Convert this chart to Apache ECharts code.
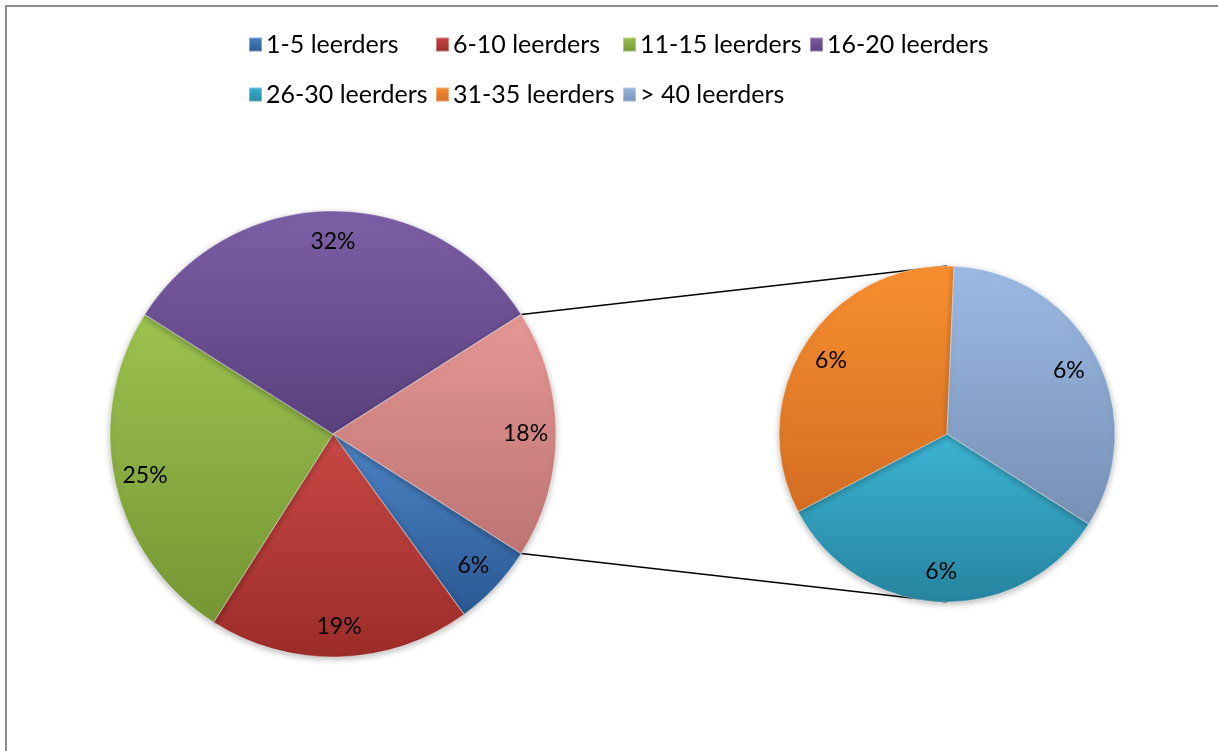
<!DOCTYPE html>
<html>
<head>
<meta charset="utf-8">
<script src="https://cdn.jsdelivr.net/npm/echarts@6/dist/echarts.min.js"></script>
<style>
  html, body { margin: 0; padding: 0; background: #fff; }
  #chart { width: 1218px; height: 751px; }
</style>
</head>
<body>
<div id="chart"></div>
<script>
// Klasgrootte: hoofdcirkel + uitvergrote tweede cirkel (pie-of-pie)
const mainNames = ['1-5 leerders', '6-10 leerders', '11-15 leerders', '16-20 leerders'];
const mainValues = [6, 19, 25, 32];
const subNames = ['26-30 leerders', '31-35 leerders', '> 40 leerders'];
const subValues = [6, 6, 6];
const otherName = 'Overige';

const legendRow1 = ['1-5 leerders', '6-10 leerders', '11-15 leerders', '16-20 leerders'];
const legendRow2 = ['26-30 leerders', '31-35 leerders', '> 40 leerders'];

// light (top) / dark (bottom) shades per category
const shades = {
  '1-5 leerders':   ['#4c84c5', '#2a5893'],
  '6-10 leerders':  ['#c84845', '#9c2c29'],
  '11-15 leerders': ['#9cc24f', '#759634'],
  '16-20 leerders': ['#7d5fa5', '#5a407e'],
  'Overige':        ['#e59794', '#bd7472'],
  '26-30 leerders': ['#3cb4d3', '#26849f'],
  '31-35 leerders': ['#f88f30', '#d46d22'],
  '> 40 leerders':  ['#9bbae4', '#7790b5']
};

const FONT = 'Lato, "Noto Sans", sans-serif';
const sum = a => a.reduce((s, v) => s + v, 0);
const subTotal = sum(subValues);
const grandTotal = sum(mainValues) + subTotal;

// geometry of the two pies
const c1 = [333, 434], r1 = 223;
const c2 = [947, 434], r2 = 168;
const halfAngle = subTotal / grandTotal * 180;   // half of the split-off slice, degrees

function grad(name) {
  const s = shades[name];
  return new echarts.graphic.LinearGradient(0, 0, 0, 1, [
    { offset: 0, color: s[0] },
    { offset: 1, color: s[1] }
  ]);
}
function items(names, values) {
  return names.map((n, i) => ({ name: n, value: values[i], itemStyle: { color: grad(n) } }));
}
const mainData = items(mainNames, mainValues).concat([
  { name: otherName, value: subTotal, itemStyle: { color: grad(otherName) } }
]);
const subData = items(subNames, subValues);

const pctLabel = p => Math.round(p.value / grandTotal * 100) + '%';

const sliceStyle = {
  borderColor: 'rgba(255,255,255,0.35)',
  borderWidth: 1.2,
  shadowBlur: 6,
  shadowOffsetY: 2,
  shadowColor: 'rgba(0,0,0,0.28)'
};

function pieSeries(data, center, radius) {
  return {
    type: 'pie', center: center, radius: radius,
    startAngle: -halfAngle, clockwise: true,
    avoidLabelOverlap: false, animation: false,
    data: data, itemStyle: sliceStyle,
    label: { show: false }, labelLine: { show: false },
    emphasis: { scale: false }
  };
}
// transparent ring carrying the percentage labels near the rim
function labelSeries(data, center, radius, inner) {
  return {
    type: 'pie', center: center, radius: [radius * inner, radius],
    startAngle: -halfAngle, clockwise: true, silent: true,
    avoidLabelOverlap: false, animation: false, z: 5,
    data: data.map(d => ({ name: d.name, value: d.value })),
    itemStyle: { color: 'rgba(0,0,0,0)' },
    label: { show: true, position: 'inside', formatter: pctLabel,
             color: '#000', fontSize: 23, fontFamily: FONT },
    labelLine: { show: false },
    emphasis: { disabled: true }
  };
}

const a = halfAngle * Math.PI / 180;
const pTop = [c1[0] + r1 * Math.cos(a), c1[1] - r1 * Math.sin(a)];
const pBot = [c1[0] + r1 * Math.cos(a), c1[1] + r1 * Math.sin(a)];

// legend laid out in fixed-width columns, one component per entry
const legendLeft = 248, legendCol = 187, legendTops = [32, 82];
const legends = [];
[legendRow1, legendRow2].forEach((row, ri) => {
  row.forEach((name, ci) => {
    legends.push({
      left: legendLeft + ci * legendCol, top: legendTops[ri],
      orient: 'horizontal', padding: 0,
      itemWidth: 13, itemHeight: 14, icon: 'rect', selectedMode: false,
      textStyle: { fontSize: 25, fontFamily: FONT, color: '#000', padding: [0, 0, 0, -1] },
      data: [name]
    });
  });
});

const chart = echarts.init(document.getElementById('chart'), null, { renderer: 'canvas' });
chart.setOption({
  backgroundColor: '#fff',
  animation: false,
  legend: legends,
  graphic: [
    { type: 'rect', z: 0, shape: { x: 6, y: 6, width: 1300, height: 900 },
      style: { fill: 'none', stroke: '#8c8c8c', lineWidth: 2 } },
    { type: 'line', z: 1, shape: { x1: pTop[0], y1: pTop[1], x2: c2[0], y2: c2[1] - r2 },
      style: { stroke: '#000', lineWidth: 1.5 } },
    { type: 'line', z: 1, shape: { x1: pBot[0], y1: pBot[1], x2: c2[0], y2: c2[1] + r2 },
      style: { stroke: '#000', lineWidth: 1.5 } }
  ],
  series: [
    pieSeries(mainData, c1, r1),
    pieSeries(subData, c2, r2),
    labelSeries(mainData, c1, r1, 0.7),
    labelSeries(subData, c2, r2, 0.6)
  ]
});
</script>
</body>
</html>
